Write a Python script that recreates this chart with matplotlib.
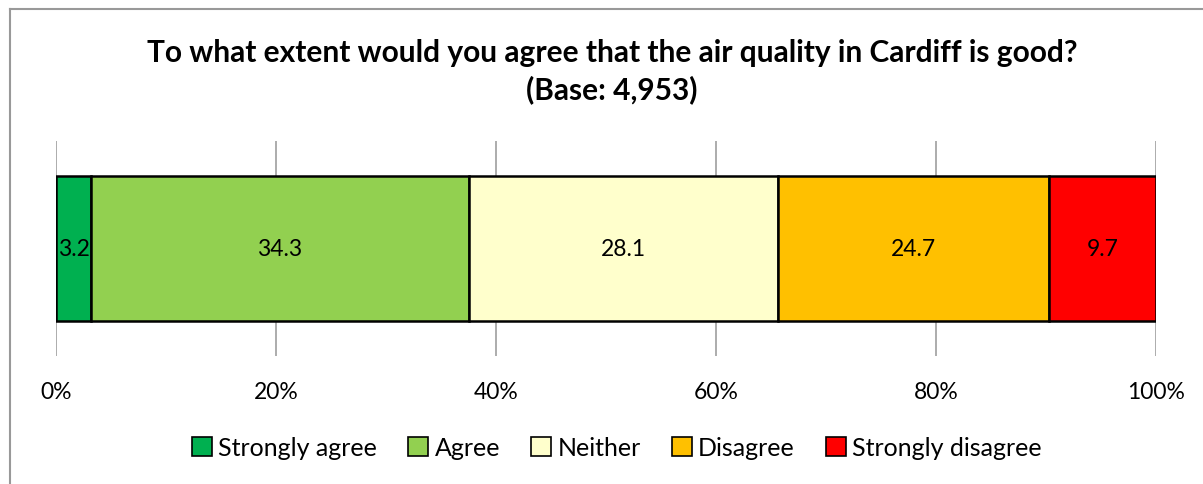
import matplotlib.pyplot as plt
from matplotlib.patches import Patch
from matplotlib.lines import Line2D

# survey responses, percent
categories = ["Strongly agree", "Agree", "Neither", "Disagree", "Strongly disagree"]
values = [3.2, 34.3, 28.1, 24.7, 9.7]
colors = ["#00B050", "#92D050", "#FFFFCC", "#FFC000", "#FF0000"]
xticks = [0, 20, 40, 60, 80, 100]
xticklabels = ["0%", "20%", "40%", "60%", "80%", "100%"]

plt.rcParams['font.family'] = ['Lato', 'DejaVu Sans']

fig = plt.figure(figsize=(12.03, 4.85), dpi=100)
ax = fig.add_axes([56/1203, 1-357/485, 1100/1203, 215/485])

# vertical gridlines behind the bar
for t in xticks:
    ax.axvline(t, color="#A6A6A6", lw=1.3, zorder=0)

left = 0
for cat, v, c in zip(categories, values, colors):
    ax.barh(0, v, left=left, height=0.67, color=c, edgecolor="black", lw=1.8, zorder=2)
    ax.text(left + v/2, 0, str(v), ha="center", va="center", fontsize=16.5, zorder=3)
    left += v

ax.set_xlim(0, 100)
ax.set_ylim(-0.5, 0.5)
ax.set_yticks([])
ax.set_xticks([])
for s in ax.spines.values():
    s.set_visible(False)

for t, lab in zip(xticks, xticklabels):
    fig.text((56 + t*11)/1203, 1-393/485, lab, ha="center", va="center", fontsize=16.5)

fig.text(612/1203, 1-53/485, "To what extent would you agree that the air quality in Cardiff is good?",
         ha="center", va="center", fontsize=21.5, fontweight="bold")
fig.text(612/1203, 1-90/485, "(Base: 4,953)", ha="center", va="center", fontsize=21.5, fontweight="bold")

handles = [Patch(facecolor=c, edgecolor="black", lw=1.2) for c in colors]
fig.legend(handles, categories, loc="center", bbox_to_anchor=(617/1203, 1-449/485), ncol=5,
           frameon=False, fontsize=18, handlelength=0.8, handleheight=0.8, handletextpad=0.25,
           columnspacing=1.25)

# chart area border (top and left only visible)
fig.add_artist(Line2D([10/1203, 1], [1-10/485, 1-10/485], color="#999999", lw=1.5, transform=fig.transFigure))
fig.add_artist(Line2D([10/1203, 10/1203], [0, 1-10/485], color="#999999", lw=1.5, transform=fig.transFigure))

fig.savefig("out.png", dpi=100)
